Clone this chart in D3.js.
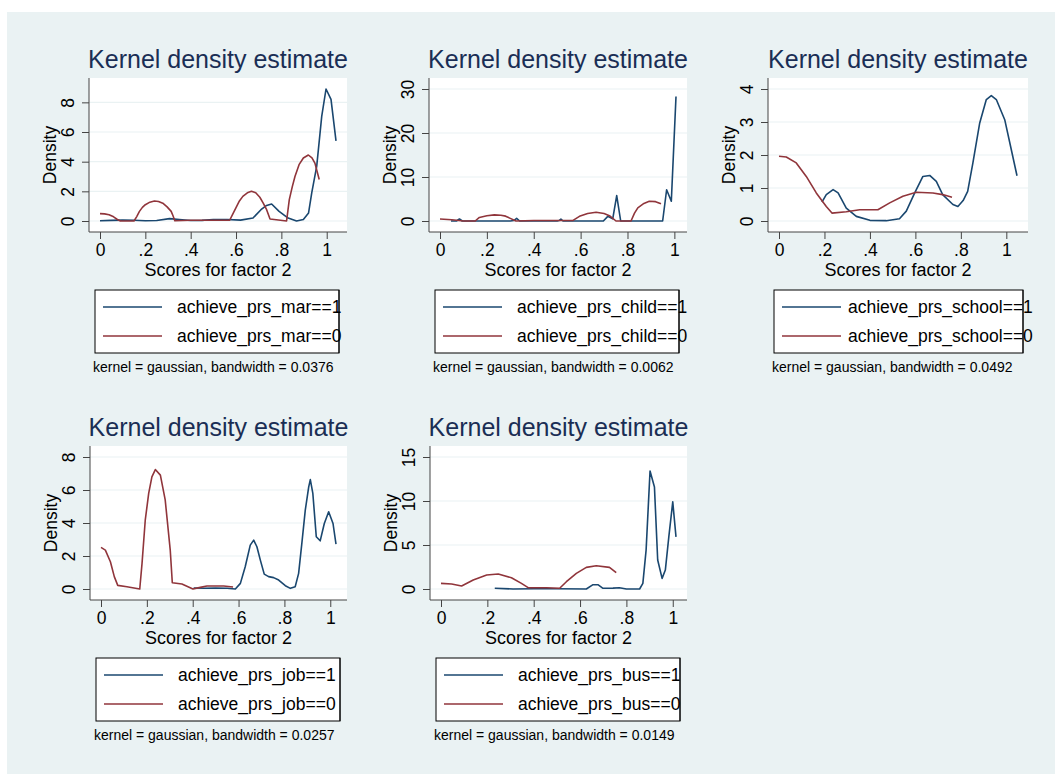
<!DOCTYPE html>
<html>
<head>
<meta charset="utf-8">
<script src="https://cdn.jsdelivr.net/npm/d3@7"></script>
<style>
  body { margin: 0; background: #fff; }
  text { font-family: "Liberation Sans", Arial, sans-serif; }
</style>
</head>
<body>
<div id="chart"></div>
<script>
// x ticks shared by all panels
const xTicks = [0, 0.2, 0.4, 0.6, 0.8, 1];
const xTickLabels = ["0", ".2", ".4", ".6", ".8", "1"];

// achieve_prs_mar
const marX1 = [0, .05, .1, .15, .2, .25, .307, .35, .4, .45, .5, .56, .62, .675, .71, .735, .757, .79, .83, .867, .897, .92, .934, .956, .978, .997, 1.019, 1.041];
const marY1 = [.02, .04, .06, .05, .02, .03, .16, .1, .03, .04, .1, .1, .06, .2, .76, 1.05, 1.15, .65, .2, 0, .1, .54, 1.9, 3.7, 7.05, 8.9, 8.2, 5.4];
const marX0 = [0, .02, .04, .06, .075, .09, .15, .162, .174, .187, .2, .22, .24, .258, .277, .296, .314, .322, .33, .4, .5, .572, .585, .6, .615, .63, .65, .668, .687, .705, .72, .735, .75, .823, .835, .848, .86, .878, .897, .919, .935, .948, .967];
const marY0 = [.5, .48, .42, .28, .12, 0, 0, .3, .65, .92, 1.1, 1.27, 1.35, 1.32, 1.2, .95, .65, .35, .02, .05, .05, .05, .45, .9, 1.35, 1.66, 1.9, 2.0, 1.9, 1.6, 1.2, .76, .13, 0, 1.44, 2.3, 3.0, 3.8, 4.25, 4.45, 4.25, 3.9, 2.8];
const marYTicks = [0, 2, 4, 6, 8];

// achieve_prs_child
const childX1 = [.047, .07, .083, .095, .12, .2, .3, .315, .327, .34, .4, .5, .508, .516, .525, .6, .697, .716, .737, .754, .771, .85, .95, .967, .987, 1.007];
const childY1 = [0, 0, .45, 0, 0, 0, 0, .1, .6, 0, 0, 0, .1, .45, 0, 0, 0, 1.06, .5, 5.76, 0, 0, 0, 7.1, 4.5, 28.3];
const childX0 = [0, .05, .1, .15, .168, .2, .232, .26, .28, .3, .324, .4, .5, .566, .595, .63, .666, .7, .723, .751, .815, .83, .844, .87, .893, .92, .943];
const childY0 = [.45, .3, 0, 0, .8, 1.2, 1.4, 1.3, 1.1, .6, 0, .1, .1, .1, 1.06, 1.7, 2.0, 1.7, 1.2, 0, 0, 1.8, 3.0, 4.0, 4.5, 4.4, 3.9];
const childYTicks = [0, 10, 20, 30];

// achieve_prs_school
const schoolX1 = [.189, .208, .238, .26, .296, .34, .4, .472, .53, .56, .597, .633, .663, .692, .72, .765, .787, .81, .83, .853, .883, .912, .934, .956, .993, 1.022, 1.047];
const schoolY1 = [.57, .8, .95, .85, .39, .14, .02, .01, .07, .3, .85, 1.35, 1.38, 1.2, .8, .5, .44, .62, .9, 1.76, 2.97, 3.68, 3.8, 3.68, 3.07, 2.16, 1.37];
const schoolX0 = [0, .032, .076, .12, .164, .208, .233, .296, .355, .435, .487, .545, .604, .677, .72, .761];
const schoolY0 = [1.96, 1.94, 1.76, 1.35, .85, .44, .24, .28, .34, .34, .55, .75, .87, .85, .8, .72];
const schoolYTicks = [0, 1, 2, 3, 4];

// achieve_prs_job
const jobX1 = [.404, .45, .5, .55, .586, .608, .629, .651, .666, .68, .695, .712, .731, .753, .775, .804, .826, .847, .862, .876, .891, .906, .913, .924, .939, .956, .974, .993, 1.012, 1.025];
const jobY1 = [.06, .05, .06, .05, 0, .34, 1.35, 2.66, 2.96, 2.56, 1.75, .9, .75, .69, .54, .2, .04, .14, .95, 2.76, 4.78, 6.19, 6.63, 5.79, 3.17, 2.92, 3.97, 4.68, 3.97, 2.72];
const jobX0 = [0, .019, .041, .058, .073, .113, .169, .179, .193, .208, .222, .237, .259, .28, .302, .311, .353, .401, .433, .462, .535, .576];
const jobY0 = [2.52, 2.36, 1.65, .75, .22, .14, 0, 1.55, 4.17, 5.8, 6.8, 7.24, 6.9, 5.4, 2.36, .38, .3, 0, .1, .18, .18, .12];
const jobYTicks = [0, 2, 4, 6, 8];

// achieve_prs_bus
const busX1 = [.232, .311, .4, .5, .627, .656, .677, .699, .742, .77, .8, .857, .871, .885, .902, .921, .935, .954, .968, .983, 1.0, 1.014];
const busY1 = [.08, 0, .03, .03, 0, .49, .49, .08, .1, .15, 0, 0, .64, 4.42, 13.4, 11.6, 3.29, 1.21, 2.15, 5.93, 9.9, 5.93];
const busX0 = [0, .046, .089, .139, .197, .247, .304, .347, .376, .455, .512, .541, .584, .627, .67, .727, .756];
const busY0 = [.64, .57, .34, 1.02, 1.59, 1.7, 1.28, .64, .15, .15, .08, .83, 1.78, 2.46, 2.64, 2.46, 1.85];
const busYTicks = [0, 5, 10, 15];

const panels = [
  { v: "mar", x1: marX1, y1: marY1, x0: marX0, y0: marY0, yt: marYTicks, bw: "0.0376" },
  { v: "child", x1: childX1, y1: childY1, x0: childX0, y0: childY0, yt: childYTicks, bw: "0.0062" },
  { v: "school", x1: schoolX1, y1: schoolY1, x0: schoolX0, y0: schoolY0, yt: schoolYTicks, bw: "0.0492" },
  { v: "job", x1: jobX1, y1: jobY1, x0: jobX0, y0: jobY0, yt: jobYTicks, bw: "0.0257" },
  { v: "bus", x1: busX1, y1: busY1, x0: busX0, y0: busY0, yt: busYTicks, bw: "0.0149" }
];

// layout of each panel (plot region box and legend tweaks)
const layout = [
  { left: 89, top: 78, w: 258, boxW: 244, textDx: 82 },
  { left: 429, top: 78, w: 258, boxW: 244, textDx: 82 },
  { left: 768, top: 78, w: 260, boxW: 249, textDx: 74 },
  { left: 90, top: 446, w: 257, boxW: 244, textDx: 82 },
  { left: 430, top: 446, w: 257, boxW: 244, textDx: 82 }
];

const W = 1055, H = 774;
const plotH = 154, pad = 11;
const blue = "#1a476f", red = "#90353b", bg = "#eaf2f3";

const svg = d3.select("#chart").append("svg")
  .attr("width", W)
  .attr("height", H);

svg.append("rect").attr("x", 7).attr("y", 12)
  .attr("width", W - 7).attr("height", H - 12)
  .attr("fill", bg);

panels.forEach((p, i) => {
  const L = layout[i];
  const g = svg.append("g").attr("transform", `translate(${L.left},${L.top})`);

  const xMax = Math.max(1, d3.max(p.x1), d3.max(p.x0));
  const yMax = Math.max(d3.max(p.yt), d3.max(p.y1), d3.max(p.y0));
  const x = d3.scaleLinear().domain([0, xMax]).range([pad, L.w - pad]);
  const y = d3.scaleLinear().domain([0, yMax]).range([plotH - pad, pad]);

  // plot region
  g.append("rect").attr("width", L.w).attr("height", plotH).attr("fill", "#fff");

  // grid lines
  g.selectAll(".grid").data(p.yt).enter().append("line")
    .attr("x1", 0).attr("x2", L.w)
    .attr("y1", d => y(d)).attr("y2", d => y(d))
    .attr("stroke", bg).attr("stroke-width", 1.2);

  // curves
  const line = d3.line().x(d => x(d[0])).y(d => y(d[1]));
  g.append("path").datum(d3.zip(p.x1, p.y1)).attr("d", line)
    .attr("fill", "none").attr("stroke", blue).attr("stroke-width", 1.6)
    .attr("stroke-linejoin", "round");
  g.append("path").datum(d3.zip(p.x0, p.y0)).attr("d", line)
    .attr("fill", "none").attr("stroke", red).attr("stroke-width", 1.6)
    .attr("stroke-linejoin", "round");

  // axes
  const yAxis = d3.axisLeft(y).tickValues(p.yt).tickSize(7).tickPadding(3).tickFormat(d3.format("d"));
  const ya = g.append("g").call(yAxis);
  ya.select(".domain").attr("d", `M0,0V${plotH}`);
  ya.selectAll("line").attr("stroke", "#444");
  ya.select(".domain").attr("stroke", "#444");
  ya.selectAll("text")
    .attr("x", 0).attr("dy", null)
    .attr("text-anchor", "middle")
    .attr("transform", "translate(-15.5,0) rotate(-90)")
    .attr("font-size", 17.5).attr("fill", "#000")
    .attr("font-family", "Liberation Sans, Arial, sans-serif");

  const xAxis = d3.axisBottom(x).tickValues(xTicks).tickSize(7)
    .tickFormat((d, k) => xTickLabels[k]);
  const xa = g.append("g").attr("transform", `translate(0,${plotH})`).call(xAxis);
  xa.select(".domain").attr("d", `M0,0H${L.w}`).attr("stroke", "#444");
  xa.selectAll("line").attr("stroke", "#444");
  xa.selectAll("text")
    .attr("y", 24).attr("dy", null)
    .attr("font-size", 17.5).attr("fill", "#000")
    .attr("font-family", "Liberation Sans, Arial, sans-serif");

  // titles and labels
  g.append("text").attr("x", L.w / 2).attr("y", -10)
    .attr("text-anchor", "middle").attr("font-size", 25).attr("fill", "#1a2e55")
    .text("Kernel density estimate");
  g.append("text").attr("x", L.w / 2).attr("y", plotH + 44)
    .attr("text-anchor", "middle").attr("font-size", 18).attr("fill", "#000")
    .text("Scores for factor 2");
  g.append("text")
    .attr("transform", `translate(-33,${plotH / 2}) rotate(-90)`)
    .attr("text-anchor", "middle").attr("font-size", 17.5).attr("fill", "#000")
    .text("Density");

  // legend
  const lg = g.append("g").attr("transform", "translate(6,212)");
  lg.append("rect").attr("width", L.boxW).attr("height", 63)
    .attr("fill", "#fff").attr("stroke", "#000").attr("stroke-width", 1);
  [[blue, "==1"], [red, "==0"]].forEach((e, k) => {
    const yy = 17 + k * 29;
    lg.append("line").attr("x1", 8).attr("x2", 67).attr("y1", yy).attr("y2", yy)
      .attr("stroke", e[0]).attr("stroke-width", 1.6);
    lg.append("text").attr("x", L.textDx).attr("y", yy + 6)
      .attr("font-size", 17.5).attr("fill", "#000")
      .text(`achieve_prs_${p.v}${e[1]}`);
  });
  // redraw right border over the text, as in the original
  lg.append("line").attr("x1", L.boxW).attr("x2", L.boxW).attr("y1", 0).attr("y2", 63)
    .attr("stroke", "#000");

  g.append("text").attr("x", 4).attr("y", 294)
    .attr("font-size", 14).attr("fill", "#000")
    .text(`kernel = gaussian, bandwidth = ${p.bw}`);
});
</script>
</body>
</html>
